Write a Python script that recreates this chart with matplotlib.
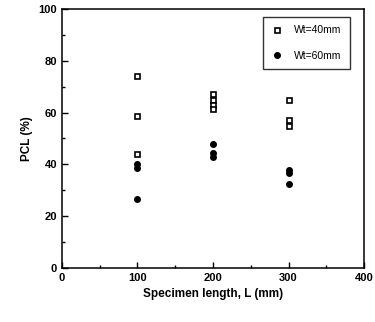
import numpy as np
import matplotlib
matplotlib.use('Agg')
import matplotlib.pyplot as plt
import matplotlib.ticker as ticker

plt.rcParams.update({'font.size': 8, 'font.family': 'Liberation Sans'})

# Wt = 40 mm (open squares)
x40 = [100, 100, 100, 200, 200, 200, 200, 300, 300, 300]
y40 = [74, 58.5, 44, 67, 65, 63, 61.5, 65, 57, 55]
# Wt = 60 mm (filled circles)
x60 = [100, 100, 100, 200, 200, 200, 300, 300, 300]
y60 = [40, 38.5, 26.5, 48, 44.5, 43, 38, 36.5, 32.5]

fig = plt.figure(figsize=(3.75, 3.22), dpi=100)
ax = fig.add_axes([0.165, 0.168, 0.806, 0.804])

ax.plot(x40, y40, 's', markersize=3.6, markerfacecolor='white', markeredgecolor='black',
        markeredgewidth=1.2, label='Wt=40mm')
ax.plot(x60, y60, 'o', markersize=4, color='black', label='Wt=60mm')

ax.set_xlim(0, 400)
ax.set_ylim(0, 100)
ax.xaxis.set_major_locator(ticker.MultipleLocator(100))
ax.xaxis.set_minor_locator(ticker.MultipleLocator(50))
ax.yaxis.set_major_locator(ticker.MultipleLocator(20))
ax.yaxis.set_minor_locator(ticker.MultipleLocator(10))
ax.tick_params(which='both', direction='in', width=1)
ax.tick_params(which='major', length=4)
ax.tick_params(which='minor', length=2.5)
for s in ax.spines.values():
    s.set_linewidth(1.1)

ax.set_xlabel('Specimen length, L (mm)', fontweight='bold', fontsize=8.5)
ax.set_ylabel('PCL (%)', fontweight='bold', fontsize=8.5)
for t in ax.get_xticklabels() + ax.get_yticklabels():
    t.set_fontweight('bold')

leg = ax.legend(loc='upper right', bbox_to_anchor=(0.97, 0.99), fontsize=7.5,
                frameon=True, fancybox=False, edgecolor='black', labelspacing=1.5,
                handletextpad=1.0, handlelength=1.2, borderpad=0.8)
leg.get_frame().set_linewidth(1)

fig.savefig('out.png', dpi=100)
